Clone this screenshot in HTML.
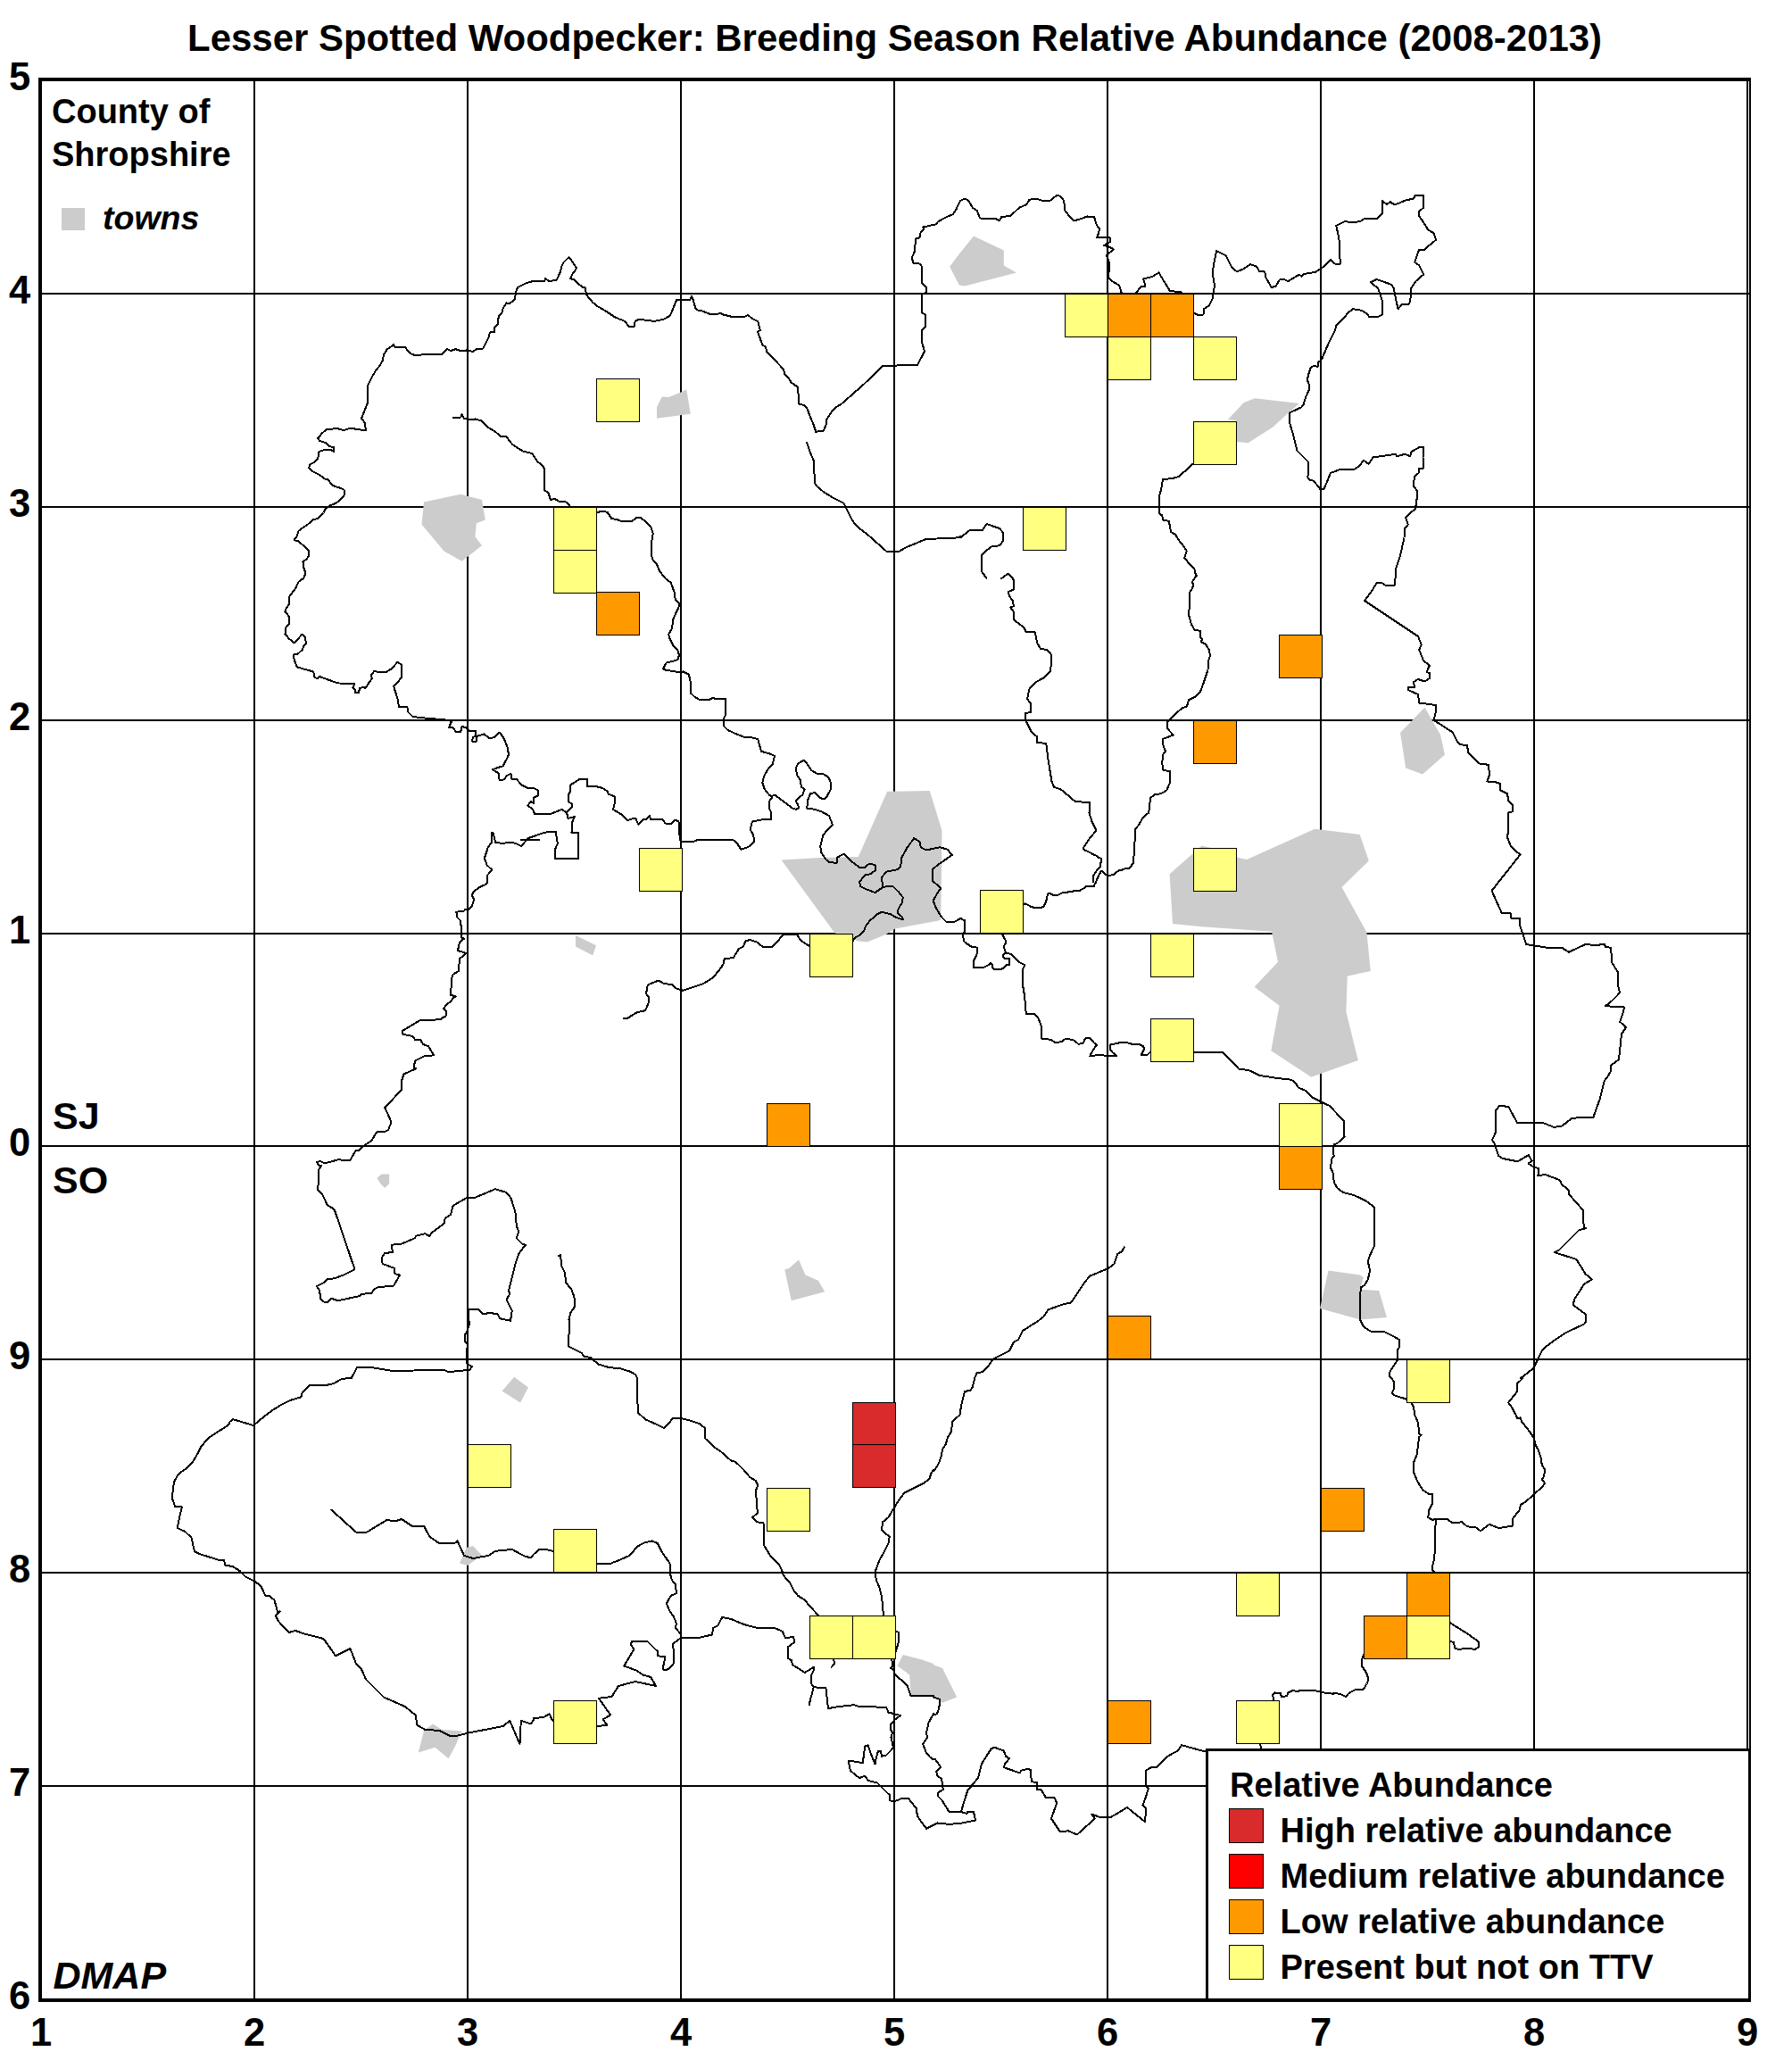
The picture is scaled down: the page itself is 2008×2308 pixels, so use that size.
<!DOCTYPE html>
<html><head><meta charset="utf-8"><style>
html,body{margin:0;padding:0;background:#fff;width:2008px;height:2308px;overflow:hidden}
text{font-family:"Liberation Sans",sans-serif;font-weight:bold;fill:#000}
</style></head><body>
<svg xmlns="http://www.w3.org/2000/svg" width="2008" height="2308" viewBox="0 0 2008 2308" style="position:absolute;left:0;top:0" shape-rendering="crispEdges">
<rect x="45" y="87" width="2" height="2155"/>
<rect x="284" y="87" width="2" height="2155"/>
<rect x="523" y="87" width="2" height="2155"/>
<rect x="762" y="87" width="2" height="2155"/>
<rect x="1001" y="87" width="2" height="2155"/>
<rect x="1240" y="87" width="2" height="2155"/>
<rect x="1479" y="87" width="2" height="2155"/>
<rect x="1718" y="87" width="2" height="2155"/>
<rect x="1957" y="87" width="2" height="2155"/>
<rect x="43" y="89" width="1918" height="2"/>
<rect x="43" y="328" width="1918" height="2"/>
<rect x="43" y="567" width="1918" height="2"/>
<rect x="43" y="806" width="1918" height="2"/>
<rect x="43" y="1045" width="1918" height="2"/>
<rect x="43" y="1283" width="1918" height="2"/>
<rect x="43" y="1522" width="1918" height="2"/>
<rect x="43" y="1761" width="1918" height="2"/>
<rect x="43" y="2000" width="1918" height="2"/>
<rect x="43" y="2239" width="1918" height="2"/>
<polygon points="475,562.5 516.2,553.8 540,560 543.8,582.5 533.8,586.2 532.5,601.2 540,611.2 517.5,628.8 497.5,617.5 472.5,587.5" fill="#CCCCCC" shape-rendering="auto"/>
<polygon points="736,468.8 736,456.2 741.8,444.5 749.2,445 763,439.5 769.2,436.2 773.8,463.8" fill="#CCCCCC" shape-rendering="auto"/>
<polygon points="1064.2,298.8 1073.5,286.2 1091,264.5 1124.8,280.5 1124.8,297.5 1139,305.5 1081,320.5 1074.8,319.5" fill="#CCCCCC" shape-rendering="auto"/>
<polygon points="1376,470 1393.5,451.2 1406,446.2 1456,452 1441,465 1426,478.8 1398.5,496.2 1386,495 1385.5,471.2" fill="#CCCCCC" shape-rendering="auto"/>
<polygon points="875.5,963.5 919.2,961 961.8,960 994.2,886.8 1041.8,886 1055.5,930.5 1054.2,1030.5 1050.5,1031.8 1003,1040.5 993,1046.8 971.8,1055.5 960.5,1054.2 955.5,1051 935.5,1045.5" fill="#CCCCCC" shape-rendering="auto"/>
<polygon points="645,1048 668,1059.2 664.2,1070.5 645,1060.5" fill="#CCCCCC" shape-rendering="auto"/>
<polygon points="1569,821 1596.5,792.5 1605.2,808 1614,823 1619,845.5 1594,867.5 1575.2,860.5" fill="#CCCCCC" shape-rendering="auto"/>
<polygon points="422.5,1319.8 427.5,1315.5 436.2,1315.5 436.2,1326 431.2,1331 426.2,1326" fill="#CCCCCC" shape-rendering="auto"/>
<polygon points="879.2,1422.2 884.2,1421 895,1411.5 902.5,1428.5 916.8,1434.8 924.2,1447.2 886.8,1457.2" fill="#CCCCCC" shape-rendering="auto"/>
<polygon points="1310.6,979.2 1346.6,947.4 1355.9,949.7 1385.4,960.6 1397.1,962.9 1473.2,928.7 1523.7,934.9 1533.8,964.5 1503.5,994 1531.4,1044.4 1535.8,1087.9 1509.7,1093.8 1508.4,1133.8 1521.8,1188.1 1469.3,1206.7 1424.3,1177.2 1433.6,1126.8 1405.6,1105.8 1432,1077.8 1425,1043.7 1346.6,1038.2 1314,1035.1" fill="#CCCCCC" shape-rendering="auto"/>
<polygon points="1488.5,1423.5 1524,1428.5 1527.8,1431 1524,1444.8 1545.2,1446 1554,1476 1524,1478.5 1479,1466" fill="#CCCCCC" shape-rendering="auto"/>
<polygon points="562.5,1558.5 576.2,1542.8 592,1554.5 583,1571.5" fill="#CCCCCC" shape-rendering="auto"/>
<polygon points="515,1751.5 522.5,1734 530,1732 540,1742.8 523.8,1754" fill="#CCCCCC" shape-rendering="auto"/>
<polygon points="468.8,1963.5 475,1939 485,1931.5 495,1937.8 517.5,1939.5 510,1956.5 502.5,1970.2 487.5,1957.8" fill="#CCCCCC" shape-rendering="auto"/>
<polygon points="1005.5,1866.5 1011.8,1854 1033,1859.5 1046,1864 1046,1865.2 1056,1869 1072.2,1901.5 1056,1907.8 1046,1900.2 1020.5,1900.2 1019.2,1876.5" fill="#CCCCCC" shape-rendering="auto"/>
<g fill="none" stroke="#000" stroke-width="2" stroke-linejoin="round" stroke-linecap="round" shape-rendering="crispEdges">
<polyline points="627.5,305 623.8,313.8 615,315 611.2,312 610,315 597.5,315 590,317 580,322 578,327.5 577,335 575,337 571.2,340 567.5,339.5 563.8,345 562.5,350 558.8,354.5 557.5,363.8 553.8,367 553.8,372 548.8,372.5 547.5,378 541.2,390.5 533.8,391.2 530,393.8 522.5,392.5 516.2,393 510.5,391.2 505,393 501.2,391.2 498.8,393 494.5,397.5 482.5,396.8 465,398 460,396.2 455,390.5 453.8,388.8 442.5,388.8 441.2,386.2 438.8,388 433.8,391.2 430,397.5 428.8,403.8 426.2,408.8 421.2,415 417.5,421.2 412.5,431.2 412,451.2 410,456.2 405,468.8 408.8,473.8 410,482 400,481.2 393.8,479.5 385,482 377.5,480 366.2,481.2 361.2,485 356.2,491.2 358,493.8 365,496.2 368.8,500 373.8,501.2 374.5,506.2 370,503.8 363.8,503.8 357.5,506.2 356.2,513.8 352.5,518 347.5,520 346.2,523.8 350,528 358.8,532.5 364.5,537 368,537.5 371.2,542.5 375,545 380,546.2 385.5,548.8 385.5,555 381.2,560 376.2,563.8 370,566.2 365,569.5 362.5,574.5 356.2,581.2 351.2,582 345,587.5 337.5,592.5 334.5,595 332.5,601.2 329.5,605 333.8,606.2 340,611.2 346.2,617.5 346.2,622.5 343.8,626.2 339.5,629.5 340,635 342.5,642.5 340,648"/>
<polyline points="507.5,468 516.2,467.5 517.5,464.5 520,468.8 526.2,470 532.5,469.5 538.8,471.2 543.8,476.2 548.8,480 555,483.8 561.2,488.8 567.5,489.5 573.8,497.5 578.8,501.2 586.2,505.5 596.2,508 600,513.8 602.5,517.5 607.5,521.2 610,525 610,548.8 614.5,552.5 617,560 621.2,558.8 628,562.5"/>
<polyline points="628,305 629.2,298.8 631.8,293.8 637.5,288 641.8,293.8 646,300 644.2,303.8 641.8,306.2 639.2,312 644.2,313.8 649.2,318.8 653,322 656,322.5 656.8,330 664.2,338.8 669.2,343 679.2,348.8 689.2,355.5 700.5,360 704.2,365.5 710.5,366.2 711.8,360 715.5,358 725.5,358.8 733,360 744.2,357.5 750.5,353.8 753,348.8 758,336.2 773,336.2 775,332 776.8,336.2 779.2,345 781.8,347.5 788,348.8 796.8,352.5 808,351.2 810.5,352.5 820.5,355 835.5,354.5 838,353 843,357 849.2,360 851.8,370 849.2,372 854.2,386.2 858,388.8 859.2,393.8 878,413.8 879.2,419.5 883,422.5 886.8,428.8 894.2,433.8 895,452.5 900.5,453.8 904.2,457 908,467.5 911.8,476.2 914.2,483.8 923,482.5 925.5,476.2 926,470 933,460 936.8,456.2 943,452.5 968,430.5 989.2,410 1028,408.8 1036,393.8 1033.5,385 1033,370 1036.8,366.2 1036.8,353 1033,350 1033,330 1038,327.5 1038,322 1033,317 1032.5,297.5 1029.2,295 1023.5,295 1021.8,288.8 1025,281.2 1026,267.5 1030.5,266.2 1031.8,260 1035.5,256.2 1034.2,254.5 1049.2,251.2 1050.5,248.8 1059.2,243.8 1068,240 1071.8,233.8 1076,225"/>
<polyline points="904.2,496.2 908,507.5 911.8,516.2 913,541.2 915.5,545 923,551.2 933,557.5 945.5,563.8 955.5,583.8 960.5,590 970.5,597.5 993,617.5 1008,617.5 1014.2,613.8 1038,603.8 1069.2,603 1076,601.2"/>
<polyline points="628,562 634.2,562.5 638,566.2 638,568.8"/>
<polyline points="668,575 674.2,572.5 680.5,573.8 685.5,581.2 690.5,581.8 698,584.5 708,583.8 714.2,579.5 718,580 725.5,586.2 729.2,590 731.8,597.5 730.5,605 730,622.5 731.8,627.5 735.5,631.2 739.2,640 745.5,648"/>
<polyline points="1076,225 1081,222.5 1085.5,225 1089.8,232.5 1094.8,236.2 1098,244.5 1116,245 1119.8,247.5 1122.2,243 1132.2,242 1142.2,232.5 1149.8,229.5 1153.5,223.8 1161,222.5 1169.8,225.5 1177.2,224.5 1184,218.8 1188.5,220 1192.2,225 1193.5,236.2 1198.5,242.5 1203.5,247.5 1209.8,245.5 1218.5,242.5 1226,243 1229,252.5 1232.2,256.2 1231,261.2 1229,266.2 1243.5,266.2 1244,271.2 1241,272.5 1237.2,275 1242.2,276.2 1248,279.5 1242.2,283.8 1239.8,286.2 1242.2,291.2 1243.5,300 1241.5,310 1246,315 1254,319.5 1256.5,327.5 1261,335 1268.5,335 1273.5,327.5 1278.5,321.2 1283.5,320.5 1281,312.5 1291,310 1298.5,305.5 1311,326.2 1323.5,327 1326,335 1333.5,347.5 1337.2,350 1342.2,353 1348.5,352.5 1349,346.2 1354.8,342.5 1358.5,335 1361,320 1358.5,305 1363,281.2 1373.5,286.2 1379.8,298.8 1386,304.5 1393.5,301.2 1401,296.2 1408.5,298.8 1411,303.8 1417.2,304.5 1418.5,311.2 1424.8,322 1429.8,320.5 1433.5,313.8 1437.2,312.5 1443.5,315 1456,307.5 1458.5,310 1461,307 1473.5,305 1482.2,299.5 1491,291.2 1496,295.5 1502.2,295.5 1501,286.2 1501.5,280 1501,272.5 1499.8,263.8 1497.2,253 1507.2,248 1516,249.5 1524,248"/>
<polyline points="1336,520 1331,525 1321,533.8 1313.5,536.2 1303,537 1301,548.8 1299.2,555 1298.5,575 1302.2,577.5 1303.5,582.5 1309.8,583.8 1312.2,596.2 1317.2,598.8 1319.8,603.8 1324.8,610 1329.8,617.5 1327.2,625 1333.5,632.5 1338.5,637.5 1338.5,641.2 1341,645 1338.5,648"/>
<polyline points="1524,347.5 1516,346.2 1511,350 1506,356.2 1497.2,365 1496,370 1488.5,385 1481,402.5 1477.2,406.2 1476.5,411.2 1472.2,409.5 1468.5,412.5 1466,420 1464.8,426.2 1467.2,431.2 1467.2,436.2 1464.8,441.2 1462.2,447.5 1461,452.5 1458.5,456.2 1444.8,462.5 1445.5,475 1448.5,485 1453.5,505 1466,517.5 1466,532.5 1464.8,533.8 1467.2,537.5 1472.2,538.8 1476,543.8 1479.8,548.8 1483.5,548 1491,530 1501,526.2 1517.2,526.2 1524,521.2"/>
<polyline points="1076,602.5 1086,594.5 1101,593.8 1105.5,587 1119.8,592 1123.5,596.2 1124,606.2 1119.8,611.2 1111,612.5 1106,616.2 1100.5,621.2 1099.8,640 1105.5,648"/>
<polyline points="1122.2,648 1129.8,642.5 1134.8,648"/>
<polyline points="1524,248 1529,245 1542.8,245 1549,239.5 1548.5,225 1554,228.8 1557.8,226.2 1562.8,229.5 1575.2,224.5 1584,222.5 1586,218.8 1595.2,218.8 1595.2,232.5 1590.2,237 1589.5,241.2 1594,247.5 1600.2,257.5 1606.5,261.2 1609,268.8 1602.8,273.8 1595.2,280.5 1590.2,279.5 1585.2,293.8 1590.2,297.5 1595.2,307.5 1586.5,315 1581.5,322.5 1580.2,337.5 1579,340.5 1571.5,340.5 1566.5,346.2 1561.5,322.5 1559,318.8 1542.8,313 1536,316.2 1540.2,320 1544,322.5 1546.5,330 1549,337.5 1549,352.5 1544,355 1534,355 1532.8,352.5 1527.8,348.8 1524,347.5"/>
<polyline points="1524,521.2 1527.8,515.5 1533.5,520 1538.5,512.5 1564,508.8 1565.2,511.2 1574,508.8 1580.2,511.2 1581.5,506.2 1590.2,501.2 1595.2,500.5 1594.5,512.5 1595.2,524.5 1590.2,525 1589.5,530 1585.2,533.8 1583.5,543.8 1587.8,550 1587.8,557.5 1586,570 1581.5,573.8 1575.2,580 1577.8,587.5 1574,592.5 1573.5,602.5 1569,622.5 1564,637.5 1563.5,648"/>
<polyline points="340,648 334.5,651.8 331.2,659.2 324.5,668 323.8,676.8 320,683 319.5,685.5 323.8,690.5 323.8,699.2 320.5,703 319.5,710.5 323.8,715.5 330,720.5 333,716.8 338.8,710.5 342,714.2 343,721 340,724.2 338.8,728 333.8,732.5 328.8,733.5 330,740.5 333,747.5 351.2,752.5 352.5,759.2 356.2,760 358,758 375,764.2 380,765.5 397.5,766 395.5,770.5 398,772.5 398,776 402,776 403,771 407.5,770 409.5,771 413.8,764.2 417,760 415.5,756.8 419.5,751.8 426.2,753.5 432.5,753 438.8,749.2 445.5,741.8 450,745 450,759.2 441.2,769.2 445.5,783 447,791.8 456.2,791.8 457.5,798 462.5,803 480,805 496.2,806 506.2,808 503,815 508,815.5 511.2,820.5 516.2,820 517.5,814.2 522.5,815 525,818.5 533,819.2 533,824.2 530,826 528.8,830.5 533.8,830.5 533.8,825.5 536.2,824.2 542.5,822.5 548.8,827.5 553.8,826 560,820.5 565,828 568.8,838 570,845.5 568,850"/>
<polyline points="568,850 565.8,853.9 563.5,858.4 557.9,860 551.8,862.3 555.7,864.5 559.1,866.7 559.6,874 564.6,873.4 568,869 572.5,866.7 573.6,873.4 579.2,873.4 584.7,879.6 591.4,882.9 598.1,882.9 603.1,885.7 603.1,891.3 598.1,893.5 598.1,900.2 594.8,898 591.4,902.5 597,906.9 599.2,911.9 617.1,911.9 629.4,906.9 635,910.3"/>
<polyline points="635,910.3 641.1,903.6 641.1,900.8 636.6,898 637.2,890.2 638.9,886.8 638.9,879.6 648.9,873.4 658.4,873.4 657.8,881.2 668.4,881.2 675.1,882.9 680.7,886.8 681.8,889.6 688.5,892.4 689.1,899.1 686.9,906.9 696.3,912.5 703.6,919.2 709.7,916.7 712.5,917.5 715.3,923.7 720,918.6"/>
<polyline points="635,910.3 636.6,917 642.8,915.3 643.9,914.7 641.1,921.4 640.5,932.6 647.8,933.1 648.3,961.6 621.6,961.6 622.1,951.6 624.9,944.9 622.7,932 617.1,931.5 609.3,933.1 591.4,939.3 584.2,948.2 580.3,946 573.6,943.8 562.4,944.9 555.2,943.8 552.4,932.6 550.7,933.1 551,943.8 546.8,949.3 542.9,961.6 545.7,969.4 551.2,974.4 545.7,981.1 545.7,989 543.4,991.2 536.7,994.5 530.6,999"/>
<polyline points="584.2,941 603.7,941"/>
<polyline points="530.5,999 528.8,1003 531.2,1008 528.8,1015.5 525,1019.2 521.2,1019.2 520,1020.5 511.2,1021.8 512.5,1028 516.2,1031.8 517.5,1050.5 520,1051.8 515,1055.5 513,1065 522.5,1068 515,1074.2 513.8,1088 507.5,1091.8 506.2,1096"/>
<polyline points="745.5,648 751.8,653 755.5,663 756.8,671.8 760.5,675.5 761,679.2 758,685.5 754.2,694.2 753,704.2 749.2,710.5 750.5,715.5 754.2,723 759.2,728 761,734.2 759.2,739.2 753,741 746.8,742.5 743,749.2 745.5,750.5 753,751.8 760.5,753 765.5,752.5 771.8,755.5 774.2,765.5 774.2,776.8 778,780.5 784.2,784.2 794.2,784.2 799.2,781.8 801.8,783 813,783 813,800.5 810.5,806.8 810.5,813 815.5,818 825.5,822.5 834.2,826 841.8,826.2 849.2,828 853,841.8 861.8,844.2 868,846.8 865.5,856.8 861.8,860 856.8,868 854.2,876.8 856.8,884.2 861.8,890.5 865.5,893 861.8,898 861.8,905.5 864.2,910.5 864.2,918 853,918.5 843,920.5 840.5,929.2 844.2,935.5 845,943 840.5,948 835.5,950 830.5,951.8 828,948 825.5,944.2 820.5,940.5 783,940.5 778,942.5 763,942.5"/>
<polyline points="720,918.5 724.2,918 728,914.2 729.2,918 743,918.5 745.5,922.5 751.8,923 756.8,918.5 760.5,920.5 761.8,940.5 763,942.5"/>
<polyline points="864.2,892.5 868,890.5 878,898 888,905.5 891.8,906.8 895,905.5 894.2,901.8 891.8,898 893,895.5 899.2,890.5 901.8,884.2 898,881.8 896.8,874.2 893,868 891.8,860.5 894.2,855.5 900.5,851.8 904.2,855.5 909.2,863 915.5,866.8 921.8,866.8 928,870.5 931,876.8 931,884.2 926.8,891.8 924.2,895.5 919.2,894.2 913,888 908,889.2 905.5,895.5 904.2,905.5 913,906.8 920.5,909.2 929.2,914.2 933,924.2 925.5,931.8 922.5,935.5 919.2,948 920.5,955.5 925.5,963 929.2,966 937.5,966.8 938.5,960.5 945.5,956.8 953,964.2 963,971.8 969.2,971.8 974.2,967.5 980.5,969.2 980.5,975.5 975.5,979.2 969.2,980.5 963,988 964.2,993 971.8,996.8 980.5,1000 989.2,994.2 988,983 993,976.8 1005.5,974.2 1009.2,970.5 1010.5,960.5 1016.8,949.2 1024.2,939.2 1030.5,943 1031.8,949.2 1038,952.5 1053,949.2 1061.8,951.8 1066.8,958 1050.5,969.2 1045,974.2 1045,986.8 1050.5,991.8 1054.2,995.5 1050.5,1000.5 1045.5,1009.2 1049.2,1018 1055.5,1028 1060.5,1033 1069.2,1033 1076,1029.2"/>
<polyline points="989.2,994.2 994.2,993 1000.5,993 1006.8,999.2 1011.8,1005.5 1010.5,1011.8 1006.8,1018 1005.5,1023 1010.5,1026.8 1011.8,1030.5 1004.2,1028 998,1024.2 993,1023 988,1021.8 983,1024.2 979.2,1028 975.5,1030.5 970.5,1036.8 968,1043 963,1048 958,1050.5 953,1058"/>
<polyline points="798,1096 803,1090.5 806.8,1085.5 810.5,1080.5 811.8,1074.2 821.8,1073 825.5,1066.8 828,1063 833,1060.5 835.5,1054.2 840.5,1053 848,1055.5 854.2,1060.5 865.5,1060.5 871.8,1054.2 876.8,1048 879.2,1046.8 893,1046.8 896.8,1053 901.8,1056.8 908,1060.5 915.5,1068"/>
<polyline points="1134.8,648 1136,650.5 1136,660.5 1129.8,663 1131,668 1134.8,673 1136,679.2 1132.2,680.5 1136,685.5 1136,694.2 1142.2,699.2 1147.2,703 1149.8,708 1159.8,708.5 1162.2,720.5 1166,726.8 1173.5,728 1178.5,734.2 1177.2,751.8 1169.8,759.2 1161,764.2 1153.5,771.8 1151,783 1154.8,788 1154.8,798 1148.5,799.2 1149.8,808 1156,820.5 1162.2,825.5 1162.2,831.8 1172.2,833 1174.8,853 1178.5,875.5 1181,881.8 1188.5,884.2 1196,890.5 1204.8,898 1221,899.2 1220.5,910.5 1223.5,920.5 1228.5,930.5 1221,939.2 1214,949.8"/>
<polyline points="1214.1,949.7 1214.1,950.7 1216.1,952.7 1221.4,955.1 1223.4,956.7 1228.8,958.7 1231.1,961.1 1234,961.8 1234.1,966.4 1232.8,967.3 1233,971.1 1230.8,973.5 1228.8,975.5 1227.5,977.5 1224.9,981.2 1224.9,988.2"/>
<polyline points="1338.5,648 1336,651.8 1337.2,655.5 1336,659.2 1333.5,663 1332.2,689.2 1334.8,699.2 1338.5,705.5 1344.8,706.8 1344.8,714.2 1347.2,715.5 1346,719.2 1351,721.8 1354.8,728 1356,734.2 1354,740.5 1353.5,750.5 1348.5,765.5 1344.8,775.5 1339.8,780.5 1332.2,784.2 1329.8,791.8 1324.8,793 1316,801 1308,809.2 1308.5,816.8 1314.8,823.5 1303,828 1303.5,835 1306,841.8 1303,845.5 1302.2,855.5 1303.5,863 1311,864.2 1311,876.8 1307.2,885.5 1301,889.2 1293.5,890.5 1289,894.2 1287.2,910.5 1281,915.5 1276,924.2 1272.2,929.2 1271,953 1269.8,966.8 1266,972.5 1260,973.5"/>
<polyline points="1260,973.5 1256.6,974.8 1253.6,975.5 1250.6,977.2 1247.9,979.8 1243.5,980.8 1240.8,980.5 1238.8,980.2 1235.5,976.8 1234.1,975.5 1233.5,976.5 1233,977.8 1231.3,980.5 1230.3,983.2 1229.5,984.5 1228.5,986.9 1227.8,988.9 1226.4,991.2 1226.4,992.9 1217.4,992.9 1215.4,994.6 1213.7,995.6 1211.4,996.9 1210.7,997.9 1203.3,997.9 1202,998.9 1200,998.9"/>
<polyline points="1200,999 1189.8,1000.5 1186,1002.5 1180,1002.8"/>
<polyline points="1180,1002.7 1175.9,1000.7 1173.8,1002 1173.2,1006.7 1171.5,1011.4 1169.2,1016.1 1165.1,1017.1 1159.1,1017.1 1155.1,1015.7 1150.1,1013.1 1148.4,1012.4 1146.4,1013.4 1130.3,1030.1 1123.3,1046.9 1125.3,1050.9 1127,1054.2 1126.6,1057.3 1125,1059.6 1125,1061.6 1127,1067.6"/>
<polyline points="1076.1,1028.8 1078.8,1030.5 1081.1,1030.8 1081.1,1043.5 1079.4,1045.5 1079.1,1049.6 1080.4,1054.9 1082.8,1056.9 1088.8,1060.9 1094.8,1061.6 1094.8,1068.3 1092.8,1073 1090.8,1077 1090.8,1084 1102.2,1084 1106.9,1081.7 1110.2,1079 1111.9,1080.4 1112.2,1084.4 1113.9,1086.1 1121.3,1086.1 1124.3,1084.7 1127.6,1081 1131,1081 1131,1074.3 1130,1073.7 1125.3,1073.7 1123.6,1072 1124,1070 1126,1068.3 1127,1067.6 1130.3,1068.3 1133.7,1069.6 1140.4,1076.3 1141.7,1077.7 1147.7,1081 1147.7,1082.7 1146.1,1085.7 1145.7,1086.4 1145.7,1105.8 1147.1,1107.1 1148.1,1120"/>
<polyline points="1563.5,648 1562.8,655.5 1551.5,655.5 1549,653.5 1542.8,653 1536.5,663 1529,673 1589,713 1592.8,722.5 1590.2,728 1595.2,740.5 1602,745.5 1598.5,753 1602,754.2 1602,760 1596.5,763.5 1589,761 1584,764.2 1585.2,770.5 1577.8,770 1577.8,773 1589,778 1590.2,787.5 1609,790 1609,796.8 1606.5,806.8 1627.8,820.5 1632.8,830.5 1636.5,834.2 1644,835 1645.2,843 1657.8,855.5 1667.8,856.8 1669,868 1666.5,875.5 1675.2,876 1681,878 1681.5,885.5 1689,889.2 1690.2,896.8 1695.2,901.8 1695.2,909.2 1690.2,910.5 1690.2,933 1688.5,936.8 1692.8,948 1696.5,951.8 1703.5,957.5 1671.5,998 1682.8,1023 1692.8,1023.5 1693.5,1029.2 1702.8,1029.2 1703.5,1038 1710.2,1058 1734,1061.8 1750.2,1061.8 1757.8,1066.8 1776.5,1058 1789,1059.2 1797.8,1057.5 1799,1061 1805.2,1061.8 1806,1078 1812.8,1089.2 1812.8,1096"/>
<polyline points="506.2,1096 505,1114.8 511.2,1116.5 507.5,1118 506.2,1121 501.2,1124.8 497,1129.8 500,1133 499.5,1138.5 495.5,1140.5 493.8,1142.2 470,1143.5 451.2,1154.8 451.2,1158.5 456.2,1159.8 462.5,1161 465,1164.8 471.2,1164.8 473.8,1169.8 480,1172.2 486.2,1182.2 475,1183.5 465,1188.5 463.8,1196 466.2,1197.2 452.5,1203.5 450,1211 450,1221 431.2,1241 437.5,1254.8 437.5,1259.8 435,1266 430,1268.5 422.5,1268 416.2,1278 408.8,1283 402.5,1288.5 398.8,1288.5 392.5,1299.8 386.2,1300.5 380,1299 363.8,1303.5 358.8,1301 355,1302.2 357.5,1305.5 360,1306 357.5,1309.8 356.2,1333.5 361.2,1338.5 365,1346 366.2,1349.8 370,1352.2 372.5,1353.5 375,1356 397.5,1422.2 385,1428.5 375,1432.2 366.2,1433.5 362.5,1437.2 355,1441 358,1446 359.5,1456 363.8,1459 367.5,1458.5 371.2,1454.8 378.8,1457.2 402.5,1452.2 405,1449.8 416.2,1449 418.8,1444.8 423.8,1442.2 441.2,1440.5 448,1428.5 442.5,1427.2 442,1421 428.8,1416 427.5,1409.8 431.2,1404 440,1403 438.8,1394.8 450,1393.5 465,1387.2 466.2,1384.8 476.2,1382.2 481.2,1384.8 483.8,1381 497.5,1371 498.8,1364.8 505,1361 507.5,1351 522.5,1342.2 531.2,1342.2 555,1332.2 567.5,1336 572.5,1342.2 577.5,1358.5 578.8,1373.5 581.2,1379.8 578.8,1387.2 585,1393.5 588.8,1394.8 581.2,1404.8 577.5,1416 570,1446 571.2,1449.8 567.5,1456 573.8,1468.5 572,1479.8 560,1477.2 557.5,1472.2 548.8,1471 541.2,1472.2 536.2,1467.2 525,1467.2 524.5,1478.5 526.2,1482.2 523.8,1491 520.5,1496 521.2,1503.5 523.8,1506 522.5,1523.5 523.8,1528.5 528.8,1531 526.2,1534.8 502.5,1537.2 497.5,1534.8 440,1536 417.5,1532.2 400,1532.2 393.8,1544"/>
<polyline points="798,1096 788,1102.2 780.5,1104.8 773,1107.2 765.5,1109.8 756.8,1107.2 753,1103 744.2,1102.2 738,1098.5 731.8,1101 726.8,1103 725,1106 724.2,1113.5 726.8,1117.2 726.8,1123.5 723,1132.2 714.2,1134 706.8,1138.5 703,1141 699.2,1141"/>
<polyline points="626,1407.2 628,1406 629.2,1418.5 633,1426 634.2,1437.2 640.5,1444.8 643.5,1453.5 643.5,1464.8 639.2,1471 637.5,1478.5 638.5,1491 636.8,1498.5 636.8,1508.5 651.8,1516 654.2,1519.8 661.8,1521 670.5,1528.5 683,1532.2 694.2,1533 705.5,1536.5 711.8,1539.8 714.2,1544"/>
<polyline points="1148,1120 1148.5,1121 1149.8,1136 1159.8,1136.5 1163.5,1141 1166.5,1148.5 1167.2,1163.5 1177.2,1164.8 1182.2,1168 1189.8,1167.2 1193.5,1164 1202.2,1164.8 1208.5,1169.8 1213.5,1169 1216,1163.5 1221,1163 1226,1168.5 1229,1170.5 1226,1174.8 1222.2,1181 1221.5,1183.5 1228.5,1182.2 1236,1182.2 1241,1183.5 1251,1183 1246,1178.5 1243.5,1174.8 1244,1170.5 1253.5,1168.5 1262.2,1168 1268.5,1169.8 1276,1169.8 1281,1172.2 1282.2,1175.5 1278.5,1182.2 1286,1181.5 1289,1178.5 1337.2,1178.5 1369.8,1178.5 1379.8,1188.5 1382.2,1191 1388.5,1198 1394.8,1198.5 1401,1199.8 1411,1204.8 1426,1207.2 1436,1208.5 1447.2,1209.8 1452.2,1214 1454.8,1218.5 1463.5,1222.2 1471,1229.8 1478.5,1233.5 1489.8,1239 1506,1256 1506.5,1273.5 1498.5,1281 1494.8,1282.2 1493.5,1292.2 1494.8,1294.8 1492.2,1298.5 1491,1308.5 1493.5,1313.5 1494.8,1324.8 1498.5,1331 1504.8,1336 1513.5,1338 1518.5,1339.8 1524,1342.2"/>
<polyline points="1259.8,1397.2 1257.2,1402.2 1252.2,1404.8 1248.5,1416 1242.2,1421 1236,1423.5 1221,1429.8 1216,1436 1199.8,1459.8 1192.2,1461 1174.8,1467.2 1169.8,1474.8 1163.5,1479.8 1146,1491 1141,1501 1136,1503.5 1131,1513.5 1116,1521 1112.2,1523.5 1107.2,1531 1101,1537.2 1094.8,1538 1092.2,1544"/>
<polyline points="1812.8,1096 1813.5,1106 1815.2,1112.2 1806.5,1121 1799,1127.2 1820.2,1128.5 1819,1133.5 1815.2,1144.8 1822,1151 1817,1158.5 1815.2,1176 1814,1187.2 1805.2,1193.5 1805.2,1199.8 1801.5,1206 1797.8,1211 1792.8,1231 1785.2,1252.2 1774,1251.5 1761.5,1253 1750.2,1261.5 1741.5,1263 1730.2,1258.5 1719,1258 1700.2,1258 1690.2,1239.8 1680.2,1239 1676.5,1243.5 1676,1268.5 1672,1277.2 1675.2,1282.2 1677,1288.5 1679,1294.8 1684,1298 1699,1301 1702,1300.5 1712.8,1294 1716.5,1300.5 1712.8,1303.5 1717.8,1307.2 1724,1309 1724,1314.8 1722.8,1317.2 1731.5,1316 1747.8,1322.2 1750.2,1327.2 1757.8,1333.5 1758.5,1338.5 1774,1356 1774,1363.5 1774.8,1374.8 1777,1376 1769,1378.5 1746.5,1401 1741.5,1403 1766.5,1411 1776.5,1427.2 1784,1433.5 1775.2,1438.5 1764,1456 1762.8,1462.2 1776.5,1472.2 1777,1481 1775.2,1483.5 1761.5,1489.8 1754,1493.5 1742.8,1501 1732.8,1508.5 1727.8,1513.5 1724,1521 1719,1532.2 1711.5,1538.5 1704,1544"/>
<polyline points="1524,1342.2 1531.5,1346 1539.5,1352.2 1539.5,1397.2 1535.2,1406 1532.8,1413.5 1535.2,1423.5 1532.8,1433.5 1529,1439.8 1525.2,1442.2 1524,1451 1523.5,1466 1524,1478.5 1527.8,1486 1535.2,1491.5 1551.5,1492.2 1561.5,1497.2 1567.8,1501 1568.5,1508.5 1566,1512.2 1566,1523.5 1562.8,1528.5 1557.8,1536 1556.5,1541 1559,1544"/>
<polyline points="393.8,1544 390,1544 382.5,1545.2 373.8,1550.2 367.5,1551.5 347.5,1551.5 338.8,1560.2 337.5,1565.2 325,1569 315,1574 305,1580.2 295,1587.8 286.2,1595.2 283.8,1597 261.2,1590.2 257.5,1592.8 256.2,1596.5 246.2,1602.8 235,1610.2 230,1615.2 225,1621.5 222.5,1626.5 216.2,1637.8 208.8,1645.2 200,1651.5 195,1660.2 193.8,1669 193,1679 196.2,1687.8 203.8,1688.5 201.2,1699 198.8,1712 207.5,1716 214.5,1722.8 218,1738.5 225,1741.5 245,1747.8 251.2,1747.8 252,1753.5 261.2,1755.2 268.8,1760.2 275,1766.5 285,1771.5 292,1776.5 297.5,1787.8 302.5,1788.5 307.5,1792.8 311.2,1806.5 313.8,1805.2 308.8,1810.2 312,1816.5 323.8,1829 331.2,1827 340,1830.2 362.5,1836 376.2,1855.2 392.5,1847 398.8,1863.5 405,1870.2 410,1881.5 430,1901.5 453.8,1912 465.5,1921.5 467.5,1932.8 476.2,1937.8 492.5,1939 505,1945.2 510,1945.2 525,1941.5 563.8,1934 571.2,1927.8 582.5,1954 583.8,1927.8 595,1931.5 598,1926.5"/>
<polyline points="371.2,1691.5 398.8,1716.5 411.2,1716.5 433.8,1702.8 442.5,1704.5 450,1702 461.2,1709.5 475,1709.5 481.2,1721.5 491.2,1728.5 510,1728.5 512.5,1726.5 520,1742.8 530,1746 547.5,1742.8 555,1737.8 573.8,1736 588.8,1744 595,1745.2 598,1741.5"/>
<polyline points="714.2,1544 713.5,1552.8 715,1582.8 723,1590.2 734.2,1595.2 744.2,1600.2 749.2,1595.2 754.2,1588.5 763,1589 773,1591.5 784.2,1595.2 790,1600.2 790,1611.5 800.5,1621.5 808,1626.5 819.2,1636.5 824.2,1637.8 833,1646.5 840.5,1655.2 846.8,1659 849.2,1664 846.8,1670.2 848,1684 848.8,1695.2 843,1700.2 848,1705.2 855.5,1706.5 855.5,1730.2 863,1742.8 873,1752.8 876,1759 878,1765.2 885.5,1774 889.2,1781.5 894.2,1787.8 901.8,1792.8 909.2,1801.5 916.8,1809.5 930.5,1831.5 934.2,1859 935,1864 931.8,1867.8"/>
<polyline points="1046,1646.5 1043,1651.5 1041.8,1656.5 1035.5,1661.5 1025.5,1666.5 1013,1672.8 1006.8,1681.5 1000.5,1691.5 995.5,1700.2 989.2,1705.2 988,1714 991.8,1717.8 996.8,1721.5 995.5,1729 990.5,1739 985,1749 980.5,1761.5 981.8,1770.2 985.5,1779 988,1789 990,1810.2 998,1826.5 1002.2,1826.5 1006.8,1829 1006.8,1840.2 1003,1852.8 999.2,1859 1000.5,1866.5 998,1869 1001,1870.2 1003,1876.5 1010.5,1882.8 1016.8,1889 1020.5,1900.2 1046,1900.2"/>
<polyline points="598,1741.5 604.2,1736 611.8,1736 619.2,1737.8 668.5,1751.5 683,1752.2 694.2,1747.8 705.5,1742.8 714.2,1732.8 721.8,1728.5 730.5,1726.5 736.8,1729 741.8,1739 750.5,1751.5 751,1764 753,1770.2 756.8,1775.2 758,1785.2 751.8,1787.8 746.8,1796.5 750.5,1805.2 755,1811.5 758,1819 756.8,1824 762.5,1830.2 763,1835.2 781.8,1835.2 798,1831.5 799.2,1824 804.2,1821.5 809.2,1812 819.2,1814 834.2,1820.2 846.8,1823.5 866.8,1823.5 876.8,1827.8 880,1835.2 889.2,1834 890,1840.2 883,1845.2 883,1857.8 886.8,1860.2 888,1865.2 894.2,1869 901.8,1874 908,1870.2 911.8,1867.8 911.8,1871.5 909.2,1876.5 909.2,1886.5 911.8,1890.2 910.5,1895.2 908,1904 906.8,1910.2"/>
<polyline points="911.8,1890.2 925.5,1891.5 928,1914.5 934.2,1912.8 956.8,1910.2 963,1912 993,1912.8 995.5,1918.5 1009.2,1922 1003,1926.5 997.5,1932.8 998,1937.8 1000,1941.5 998.5,1946.5 1001,1957.8 998,1961.5 993,1966.5 988,1967.8 986.8,1961.5 984.2,1961.5 981.8,1969 980.5,1976.5 975.5,1964 972.5,1955.2 969.2,1956.5 966.8,1975.2 953,1972.8 950.5,1972.8 953,1984 959.2,1989 963,1992"/>
<polyline points="763,1835.2 754.2,1841.5 755.5,1862.8 750.5,1869 745.5,1871.5 742.5,1870.2 745.5,1856.5 736.8,1855.2 736.8,1850.2 725.5,1839 708,1839 706.8,1842.8 710.5,1847.8 699.2,1866.5 713,1871.5 720.5,1876.5 729.2,1879 735,1889 711.8,1884 693,1889 685.5,1901 671,1902.8 684.2,1921.5 675.5,1926.5 680.5,1932.8 669.2,1934 619.2,1927.8 615.5,1920.2 609.2,1924 598,1925.2"/>
<polyline points="1046,1920.2 1040.5,1930.2 1038,1941.5 1039.2,1946.5 1034.2,1954 1038,1964 1042.5,1969 1046,1971.5"/>
<polyline points="1092.2,1544 1089.8,1554 1087.2,1557.8 1081,1559 1079.8,1564 1077.2,1574 1075.5,1585.2 1067.2,1592.8 1066,1604 1062.2,1610.2 1059.8,1617.8 1056,1624 1054.8,1631.5 1052.2,1639 1048.5,1645.2 1046,1647.8"/>
<polyline points="1046,1901.5 1053.5,1904 1052.2,1914 1049.8,1920.2 1046,1921.5"/>
<polyline points="1096,1992 1099.8,1976.5 1106,1966.5 1111,1959 1114.8,1957.8 1121,1960.2 1124.8,1961.5 1127.2,1967.8 1131,1970.2 1126,1976.5 1124.8,1980.2 1136,1984 1142.2,1986.5 1144.8,1983.5 1151,1982 1154.8,1982.8 1155.5,1992"/>
<polyline points="1283.5,1992 1283.5,1984 1289.8,1980.2 1296,1980.2 1308.5,1967.8 1314.8,1964 1319.8,1961.5 1324,1955.2 1348.5,1962 1353.5,1962.8"/>
<polyline points="1413.5,1964 1412.2,1954 1427.2,1904 1426,1899 1428.5,1896.5 1434.8,1897 1436,1901 1442.2,1900.2 1443.5,1896.5 1448.5,1894 1454.8,1895.2 1456,1893.5 1471,1893.5 1483.5,1896.5 1494,1897.8"/>
<polyline points="1559,1544 1562,1547.8 1561.5,1557.8 1559.5,1560.2 1562.8,1563.5 1576.5,1567.8 1581.5,1571.5 1584,1576.5 1585.2,1585.2 1589,1594 1590.2,1606.5 1592.8,1607.8 1590.2,1610.2 1589,1619 1587.8,1629 1583.5,1640.2 1584,1649 1587.8,1659 1594,1669 1600.2,1673.5 1605.2,1674 1605.2,1684 1601.5,1691.5 1600.2,1700.2 1605.2,1702.8 1609,1702 1621.5,1702 1627.8,1706.5 1632.8,1706 1637.8,1705.2 1644,1710.2 1654,1711.5 1659,1715.2 1669,1707.8 1679,1712 1686.5,1711 1695.2,1709.5 1695.2,1701.5 1702.8,1691.5 1704,1686 1710.2,1682 1719,1674 1729,1665.2 1731,1661.5 1727.8,1657.8 1730.2,1654 1731,1646.5 1727.8,1641.5 1726.5,1632.8 1724,1625.2 1720.2,1617.8 1719,1611.5 1714,1604 1705.2,1592.8 1703.5,1588.5 1700.2,1589 1698.5,1585.2 1694,1576.5 1690.2,1571.5 1700.2,1559 1700.2,1550.2 1706.5,1544"/>
<polyline points="1609,1702.8 1607.8,1719 1608.5,1734 1606.5,1749 1605.2,1754 1605.2,1759 1607.8,1761.5 1611.5,1769"/>
<polyline points="1619,1814 1624.5,1817.8 1634,1824 1644,1830.2 1656.5,1839 1657,1845.2 1652.8,1847.8 1644,1847 1634,1847.8 1630.2,1846.5 1629,1840.2 1624.5,1838.5"/>
<polyline points="1534,1844 1528.5,1852.8 1526,1859 1526,1866.5 1531,1874 1533.5,1881.5 1531.5,1886.5 1527.8,1892.8 1517.8,1893.5 1511.5,1897 1507.8,1901 1501.5,1897.8 1494,1897"/>
<polyline points="963,1992 965.5,1991.2 969.2,1989.5 973,1995 983,1997.5 985.5,2000 996.8,2011.2 997.5,2017.5 1003,2018 1011.8,2014.5 1017.5,2014.5 1026.8,2026.2 1028,2035 1038,2048.8 1050.5,2042.5 1063,2043.8 1075.5,2043 1093,2039.5 1091,2030 1084.2,2029.5 1083.5,2032 1076.8,2030 1084.2,2006.2 1095.5,1992.5"/>
<polyline points="1046,1971.5 1048,1971.2 1054.2,1980 1049.2,1985 1050.5,1990 1055,1992.5 1056.8,2005 1050.5,2008.8 1051,2012.5 1055.5,2017 1063.5,2030 1074.2,2030 1076.8,2030"/>
<polyline points="1155.5,1992 1155.5,1996.2 1161.8,1997 1161.8,2005 1166.8,2005.5 1171.8,2013.8 1181.8,2014.5 1184.2,2020 1178,2037.5 1188,2052.5 1196.8,2051.2 1206.8,2055.5 1226.8,2037.5 1223,2032.5 1233,2036.2 1244.2,2036.2 1253,2031.2 1263,2025 1283,2041.2 1284.2,2026.2 1280.5,2022.5 1284.2,2012.5 1286.8,2003.8 1284.2,2001.2 1284.2,1992"/>
</g>
<rect x="1193" y="329" width="49" height="49"/>
<rect x="1194" y="330" width="47" height="47" fill="#FFFF80"/>
<rect x="1241" y="377" width="49" height="49"/>
<rect x="1242" y="378" width="47" height="47" fill="#FFFF80"/>
<rect x="1337" y="377" width="49" height="49"/>
<rect x="1338" y="378" width="47" height="47" fill="#FFFF80"/>
<rect x="668" y="424" width="49" height="49"/>
<rect x="669" y="425" width="47" height="47" fill="#FFFF80"/>
<rect x="1337" y="472" width="49" height="49"/>
<rect x="1338" y="473" width="47" height="47" fill="#FFFF80"/>
<rect x="620" y="568" width="49" height="49"/>
<rect x="621" y="569" width="47" height="47" fill="#FFFF80"/>
<rect x="620" y="616" width="49" height="49"/>
<rect x="621" y="617" width="47" height="47" fill="#FFFF80"/>
<rect x="1146" y="568" width="49" height="49"/>
<rect x="1147" y="569" width="47" height="47" fill="#FFFF80"/>
<rect x="1337" y="950" width="49" height="49"/>
<rect x="1338" y="951" width="47" height="47" fill="#FFFF80"/>
<rect x="716" y="950" width="49" height="49"/>
<rect x="717" y="951" width="47" height="47" fill="#FFFF80"/>
<rect x="1098" y="997" width="49" height="49"/>
<rect x="1099" y="998" width="47" height="47" fill="#FFFF80"/>
<rect x="907" y="1046" width="49" height="49"/>
<rect x="908" y="1047" width="47" height="47" fill="#FFFF80"/>
<rect x="1289" y="1046" width="49" height="49"/>
<rect x="1290" y="1047" width="47" height="47" fill="#FFFF80"/>
<rect x="1289" y="1141" width="49" height="49"/>
<rect x="1290" y="1142" width="47" height="47" fill="#FFFF80"/>
<rect x="1433" y="1236" width="49" height="49"/>
<rect x="1434" y="1237" width="47" height="47" fill="#FFFF80"/>
<rect x="1576" y="1523" width="49" height="49"/>
<rect x="1577" y="1524" width="47" height="47" fill="#FFFF80"/>
<rect x="524" y="1618" width="49" height="49"/>
<rect x="525" y="1619" width="47" height="47" fill="#FFFF80"/>
<rect x="859" y="1667" width="49" height="49"/>
<rect x="860" y="1668" width="47" height="47" fill="#FFFF80"/>
<rect x="620" y="1713" width="49" height="49"/>
<rect x="621" y="1714" width="47" height="47" fill="#FFFF80"/>
<rect x="1385" y="1762" width="49" height="49"/>
<rect x="1386" y="1763" width="47" height="47" fill="#FFFF80"/>
<rect x="1576" y="1810" width="49" height="49"/>
<rect x="1577" y="1811" width="47" height="47" fill="#FFFF80"/>
<rect x="907" y="1810" width="49" height="49"/>
<rect x="908" y="1811" width="47" height="47" fill="#FFFF80"/>
<rect x="955" y="1810" width="49" height="49"/>
<rect x="956" y="1811" width="47" height="47" fill="#FFFF80"/>
<rect x="1385" y="1905" width="49" height="49"/>
<rect x="1386" y="1906" width="47" height="47" fill="#FFFF80"/>
<rect x="620" y="1905" width="49" height="49"/>
<rect x="621" y="1906" width="47" height="47" fill="#FFFF80"/>
<rect x="1241" y="329" width="49" height="49"/>
<rect x="1242" y="330" width="47" height="47" fill="#FF9900"/>
<rect x="1289" y="329" width="49" height="49"/>
<rect x="1290" y="330" width="47" height="47" fill="#FF9900"/>
<rect x="668" y="663" width="49" height="49"/>
<rect x="669" y="664" width="47" height="47" fill="#FF9900"/>
<rect x="1433" y="711" width="49" height="49"/>
<rect x="1434" y="712" width="47" height="47" fill="#FF9900"/>
<rect x="1337" y="807" width="49" height="49"/>
<rect x="1338" y="808" width="47" height="47" fill="#FF9900"/>
<rect x="859" y="1236" width="49" height="49"/>
<rect x="860" y="1237" width="47" height="47" fill="#FF9900"/>
<rect x="1433" y="1284" width="49" height="49"/>
<rect x="1434" y="1285" width="47" height="47" fill="#FF9900"/>
<rect x="1241" y="1474" width="49" height="49"/>
<rect x="1242" y="1475" width="47" height="47" fill="#FF9900"/>
<rect x="1480" y="1667" width="49" height="49"/>
<rect x="1481" y="1668" width="47" height="47" fill="#FF9900"/>
<rect x="1576" y="1762" width="49" height="49"/>
<rect x="1577" y="1763" width="47" height="47" fill="#FF9900"/>
<rect x="1528" y="1810" width="49" height="49"/>
<rect x="1529" y="1811" width="47" height="47" fill="#FF9900"/>
<rect x="1241" y="1905" width="49" height="49"/>
<rect x="1242" y="1906" width="47" height="47" fill="#FF9900"/>
<rect x="955" y="1571" width="49" height="49"/>
<rect x="956" y="1572" width="47" height="47" fill="#D92B2B"/>
<rect x="955" y="1618" width="49" height="49"/>
<rect x="956" y="1619" width="47" height="47" fill="#D92B2B"/>
<rect x="43" y="87" width="1919" height="4"/>
<rect x="43" y="2239" width="1919" height="4"/>
<rect x="43" y="87" width="4" height="2156"/>
<rect x="1960" y="87" width="2" height="2156"/>
<rect x="1351" y="1959" width="611" height="284"/>
<rect x="1354" y="1962" width="605" height="277" fill="#fff"/>
<rect x="1377" y="2026" width="39" height="39"/>
<rect x="1378" y="2027" width="37" height="37" fill="#D92B2B"/>
<rect x="1377" y="2077" width="39" height="39"/>
<rect x="1378" y="2078" width="37" height="37" fill="#FF0000"/>
<rect x="1377" y="2128" width="39" height="39"/>
<rect x="1378" y="2129" width="37" height="37" fill="#FF9900"/>
<rect x="1377" y="2179" width="39" height="39"/>
<rect x="1378" y="2180" width="37" height="37" fill="#FFFF80"/>
<rect x="69" y="233" width="26" height="25" fill="#CCCCCC"/>
</svg>
<svg xmlns="http://www.w3.org/2000/svg" width="2008" height="2308" style="position:absolute;left:0;top:0"><text x="1002.6" y="56.6" font-size="43" text-anchor="middle" textLength="1585" lengthAdjust="spacingAndGlyphs">Lesser Spotted Woodpecker: Breeding Season Relative Abundance (2008-2013)</text>
<text x="34.2" y="100.8" font-size="43.5" text-anchor="end" >5</text>
<text x="34.2" y="339.8" font-size="43.5" text-anchor="end" >4</text>
<text x="34.2" y="578.8" font-size="43.5" text-anchor="end" >3</text>
<text x="34.2" y="817.8" font-size="43.5" text-anchor="end" >2</text>
<text x="34.2" y="1056.8" font-size="43.5" text-anchor="end" >1</text>
<text x="34.2" y="1294.8" font-size="43.5" text-anchor="end" >0</text>
<text x="34.2" y="1533.8" font-size="43.5" text-anchor="end" >9</text>
<text x="34.2" y="1772.8" font-size="43.5" text-anchor="end" >8</text>
<text x="34.2" y="2011.8" font-size="43.5" text-anchor="end" >7</text>
<text x="34.2" y="2250.8" font-size="43.5" text-anchor="end" >6</text>
<text x="46" y="2292.2" font-size="43.5" text-anchor="middle" >1</text>
<text x="285" y="2292.2" font-size="43.5" text-anchor="middle" >2</text>
<text x="524" y="2292.2" font-size="43.5" text-anchor="middle" >3</text>
<text x="763" y="2292.2" font-size="43.5" text-anchor="middle" >4</text>
<text x="1002" y="2292.2" font-size="43.5" text-anchor="middle" >5</text>
<text x="1241" y="2292.2" font-size="43.5" text-anchor="middle" >6</text>
<text x="1480" y="2292.2" font-size="43.5" text-anchor="middle" >7</text>
<text x="1719" y="2292.2" font-size="43.5" text-anchor="middle" >8</text>
<text x="1958" y="2292.2" font-size="43.5" text-anchor="middle" >9</text>
<text x="58" y="138" font-size="38" text-anchor="start" >County of</text>
<text x="58" y="186" font-size="38" text-anchor="start" >Shropshire</text>
<text x="115" y="257" font-size="37.5" text-anchor="start" font-style="italic">towns</text>
<text x="59" y="1264.6" font-size="43" text-anchor="start" >SJ</text>
<text x="59" y="1336.6" font-size="43" text-anchor="start" >SO</text>
<text x="59.5" y="2227.7" font-size="43" text-anchor="start" font-style="italic">DMAP</text>
<text x="1378" y="2013" font-size="38" text-anchor="start" >Relative Abundance</text>
<text x="1434.5" y="2064" font-size="38" text-anchor="start" >High relative abundance</text>
<text x="1434.5" y="2115" font-size="38" text-anchor="start" >Medium relative abundance</text>
<text x="1434.5" y="2166" font-size="38" text-anchor="start" >Low relative abundance</text>
<text x="1434.5" y="2217" font-size="38" text-anchor="start" >Present but not on TTV</text></svg>
</body></html>
